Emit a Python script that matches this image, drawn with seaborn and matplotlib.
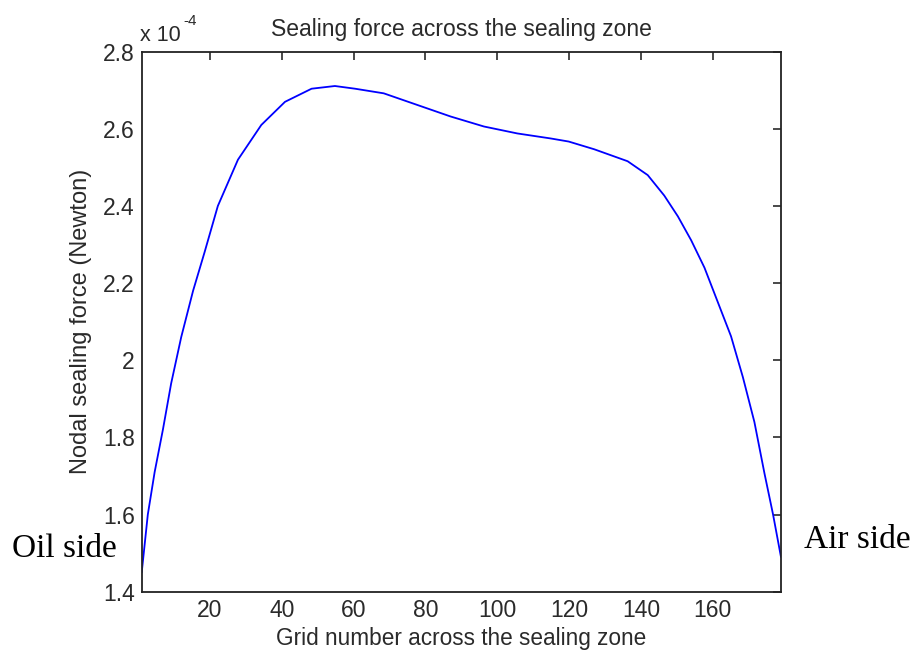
import numpy as np
import pandas as pd
import matplotlib
matplotlib.use("Agg")
import matplotlib.pyplot as plt
import seaborn as sns

# Значения (сила в единицах 1e-4 Н)
grid_number = [1, 2.7, 4.6, 6.9, 9.2, 12.0, 15.3, 18.5, 22.2, 27.8, 34.3,
               40.9, 48.3, 54.8, 60.4, 68.4, 77.7, 87.0, 96.3, 105.6, 114.9,
               119.9, 127.0, 136.3, 141.9, 146.5, 150.3, 154.0, 157.7,
               161.4, 165.1, 168.4, 171.6, 174.4, 176.8, 179]
sealing_force = [1.45, 1.60, 1.71, 1.82, 1.94, 2.06, 2.18, 2.28, 2.40, 2.52,
                 2.61, 2.67, 2.704, 2.711, 2.704, 2.692, 2.662, 2.632, 2.606,
                 2.588, 2.575, 2.567, 2.547, 2.516, 2.48, 2.427, 2.373,
                 2.311, 2.24, 2.151, 2.062, 1.956, 1.84, 1.707, 1.60, 1.49]
x_ticks = [20, 40, 60, 80, 100, 120, 140, 160]
y_ticks = [1.4, 1.6, 1.8, 2.0, 2.2, 2.4, 2.6, 2.8]
y_tick_labels = ['1.4', '1.6', '1.8', '2', '2.2', '2.4', '2.6', '2.8']

df = pd.DataFrame({'grid': grid_number, 'force': sealing_force})

sns.set_style('white')
plt.rcParams['font.family'] = ['Liberation Sans', 'DejaVu Sans']
txt_color = '#2a2a2a'

fig = plt.figure(figsize=(9.19, 6.6), dpi=100)
ax = fig.add_axes([0.1542, 0.1035, 0.6956, 0.8182])

sns.lineplot(data=df, x='grid', y='force', ax=ax, color='#0000ff',
             linewidth=1.3, estimator=None, sort=False)

ax.set_xlim(1, 179)
ax.set_ylim(1.4, 2.8)
ax.set_xticks(x_ticks)
ax.set_xticklabels([str(t) for t in x_ticks])
ax.set_yticks(y_ticks)
ax.set_yticklabels(y_tick_labels)
ax.tick_params(direction='in', length=6, width=1.2, top=True, right=True,
               labelsize=16.5, colors=txt_color, pad=5)
for sp in ax.spines.values():
    sp.set_visible(True)
    sp.set_color('#222222')
    sp.set_linewidth(1.3)

ax.set_title('Sealing force across the sealing zone', fontsize=16.5,
             color=txt_color, pad=11)
ax.set_xlabel('Grid number across the sealing zone', fontsize=16.3,
              color=txt_color, labelpad=4)
ax.set_ylabel('Nodal sealing force (Newton)', fontsize=17,
              color=txt_color, labelpad=8)

# множитель оси Y в стиле MATLAB
fig.text(140 / 919, 1 - 41 / 660, 'x 10', fontsize=15.5, color=txt_color,
         ha='left', va='baseline')
fig.text(183 / 919, 1 - 25 / 660, '-4', fontsize=11, color=txt_color,
         ha='left', va='baseline')

# подписи сторон
fig.text(12 / 919, 1 - 549 / 660, 'Oil side', fontsize=24, color='black',
         family='Liberation Serif', ha='left', va='center')
fig.text(804 / 919, 1 - 540 / 660, 'Air side', fontsize=24, color='black',
         family='Liberation Serif', ha='left', va='center')

fig.savefig('out.png', dpi=100)
